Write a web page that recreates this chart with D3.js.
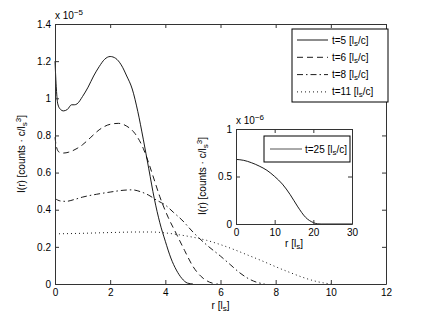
<!DOCTYPE html>
<html>
<head>
<meta charset="utf-8">
<script src="https://cdn.jsdelivr.net/npm/d3@7"></script>
<style>
  body { margin: 0; background: #fff; }
  svg { font-family: "Liberation Sans", Arial, sans-serif; font-size: 10px; }
  .axis path, .axis line { stroke: #333; }
  .axis text { fill: #000; font-size: 10px; }
</style>
</head>
<body>
<div id="chart"></div>
<script>
// data (intensity in units of 1e-5, inset in 1e-6)
const rT5 = [0, 0.05, 0.1, 0.2, 0.3, 0.45, 0.6, 0.7, 0.8, 1.0, 1.2, 1.4, 1.6, 1.8, 2.0, 2.2, 2.4, 2.6, 2.8, 3.0, 3.2, 3.4, 3.6, 3.8, 4.0, 4.2, 4.4, 4.6, 4.8, 5.0];
const iT5 = [1.2, 1.05, 0.97, 0.94, 0.932, 0.94, 0.965, 0.965, 0.97, 1.01, 1.06, 1.12, 1.17, 1.21, 1.225, 1.215, 1.18, 1.12, 1.05, 0.93, 0.78, 0.62, 0.46, 0.33, 0.23, 0.14, 0.075, 0.03, 0.005, 0];

const rT6 = [0, 0.05, 0.15, 0.3, 0.5, 0.8, 1.0, 1.3, 1.6, 2.0, 2.3, 2.6, 2.9, 3.2, 3.4, 3.6, 3.8, 4.1, 4.4, 4.7, 5.0, 5.3, 5.6, 5.9];
const iT6 = [0.79, 0.74, 0.71, 0.705, 0.71, 0.73, 0.75, 0.79, 0.83, 0.86, 0.865, 0.85, 0.81, 0.73, 0.65, 0.56, 0.47, 0.36, 0.27, 0.18, 0.095, 0.04, 0.01, 0];

const rT8 = [0, 0.2, 0.4, 0.7, 1.0, 1.5, 2.0, 2.5, 2.8, 3.1, 3.4, 3.7, 4.0, 4.3, 4.6, 5.0, 5.5, 6.0, 6.35, 6.7, 7.0, 7.3, 7.6];
const iT8 = [0.46, 0.447, 0.445, 0.455, 0.468, 0.483, 0.495, 0.505, 0.507, 0.497, 0.478, 0.45, 0.425, 0.385, 0.345, 0.28, 0.21, 0.15, 0.105, 0.06, 0.03, 0.01, 0];

const rT11 = [0, 1, 2, 3, 3.5, 4, 4.5, 5, 5.5, 6, 6.5, 7, 7.5, 8, 8.5, 9, 9.5, 10];
const iT11 = [0.27, 0.273, 0.277, 0.28, 0.28, 0.275, 0.265, 0.252, 0.235, 0.212, 0.185, 0.155, 0.125, 0.093, 0.063, 0.035, 0.013, 0];

const rT25 = [0, 2, 4, 6, 8, 10, 12, 14, 16, 18, 20, 21, 22, 30];
const iT25 = [0.68, 0.67, 0.645, 0.61, 0.565, 0.5, 0.42, 0.31, 0.18, 0.07, 0.015, 0.002, 0, 0];

const legendTimes = ["5", "6", "8", "11"];
const dashes = [null, "6,4", "6,3,1.5,3", "1,3"];
const xTicks = [0, 2, 4, 6, 8, 10, 12];
const yTicks = [0, 0.2, 0.4, 0.6, 0.8, 1, 1.2, 1.4];
const insetXTicks = [0, 10, 20, 30];
const insetYTicks = [0, 0.5, 1];

const width = 426, height = 321;
const margin = { top: 24, bottom: 37, left: 55, right: 40 };

const svg = d3.select("#chart").append("svg")
  .attr("width", width).attr("height", height);
svg.append("rect").attr("width", width).attr("height", height).attr("fill", "#fff");

const series = [
  { r: rT5, v: iT5 }, { r: rT6, v: iT6 }, { r: rT8, v: iT8 }, { r: rT11, v: iT11 }
];

// draw one matlab-style axes box (ticks inside on all four sides)
function drawAxes(g, x, y, xt, yt) {
  const [x0, x1] = x.range(), [y0, y1] = y.range();
  g.append("g").attr("class", "axis").attr("transform", `translate(0,${y0})`)
    .call(d3.axisBottom(x).tickValues(xt).tickSizeInner(-4).tickSizeOuter(0).tickPadding(5).tickFormat(d3.format("")));
  g.append("g").attr("class", "axis").attr("transform", `translate(0,${y1})`)
    .call(d3.axisTop(x).tickValues(xt).tickSizeInner(-4).tickSizeOuter(0).tickFormat(""));
  g.append("g").attr("class", "axis").attr("transform", `translate(${x0},0)`)
    .call(d3.axisLeft(y).tickValues(yt).tickSizeInner(-4).tickSizeOuter(0).tickPadding(4).tickFormat(d3.format("")));
  g.append("g").attr("class", "axis").attr("transform", `translate(${x1},0)`)
    .call(d3.axisRight(y).tickValues(yt).tickSizeInner(-4).tickSizeOuter(0).tickFormat(""));
}

function subLabel(textSel, parts) {
  parts.forEach(p => {
    const t = textSel.append("tspan").text(p.t);
    if (p.sub) t.attr("baseline-shift", "-30%").attr("font-size", "8px");
    if (p.sup) t.attr("baseline-shift", "45%").attr("font-size", "8px");
  });
}

/** MAIN AXES */
let xScale = d3.scaleLinear().domain([0, 12]).range([margin.left, width - margin.right]);
let yScale = d3.scaleLinear().domain([0, 1.4]).range([height - margin.bottom, margin.top]);

const main = svg.append("g");
const line = d3.line().x((d, i) => d[0]).y(d => d[1]).curve(d3.curveMonotoneX);

series.forEach((s, k) => {
  main.append("path")
    .attr("d", line(s.r.map((r, i) => [xScale(r), yScale(s.v[i])])))
    .attr("fill", "none").attr("stroke", "#000").attr("stroke-width", 0.9)
    .attr("stroke-dasharray", dashes[k]);
});
drawAxes(main, xScale, yScale, xTicks, yTicks);

// exponent
let ex = main.append("text").attr("x", margin.left).attr("y", 19);
subLabel(ex, [{ t: "x 10" }, { t: "−5", sup: true }]);

// axis labels
let xl = main.append("text").attr("x", (xScale(0) + xScale(12)) / 2).attr("y", 309).attr("text-anchor", "middle");
subLabel(xl, [{ t: "r [l" }, { t: "s", sub: true }, { t: "]" }]);
let yl = main.append("text").attr("transform", `translate(25,${(yScale(0) + yScale(1.4)) / 2}) rotate(-90)`).attr("text-anchor", "middle");
subLabel(yl, [{ t: "I(r) [counts · c/l" }, { t: "s", sub: true }, { t: "3", sup: true }, { t: "]" }]);

// legend
const leg = main.append("g").attr("transform", "translate(292,29)");
leg.append("rect").attr("width", 96).attr("height", 73).attr("fill", "#fff").attr("stroke", "#000").attr("stroke-width", 1);
legendTimes.forEach((t, k) => {
  const yy = 11 + k * 17.3;
  leg.append("line").attr("x1", 5).attr("x2", 36).attr("y1", yy).attr("y2", yy)
    .attr("stroke", "#000").attr("stroke-width", 0.9).attr("stroke-dasharray", dashes[k]);
  const tx = leg.append("text").attr("x", 40).attr("y", yy + 3.5);
  subLabel(tx, [{ t: "t=" + t + " [l" }, { t: "s", sub: true }, { t: "/c]" }]);
});

/** INSET */
let xIn = d3.scaleLinear().domain([0, 30]).range([236, 352]);
let yIn = d3.scaleLinear().domain([0, 1]).range([224, 129]);
const inset = svg.append("g");
inset.append("rect").attr("x", 236).attr("y", 129).attr("width", 116).attr("height", 95).attr("fill", "#fff");
inset.append("path")
  .attr("d", line(rT25.map((r, i) => [xIn(r), yIn(iT25[i])])))
  .attr("fill", "none").attr("stroke", "#000").attr("stroke-width", 0.9);
drawAxes(inset, xIn, yIn, insetXTicks, insetYTicks);

let ex2 = inset.append("text").attr("x", 236).attr("y", 124);
subLabel(ex2, [{ t: "x 10" }, { t: "−6", sup: true }]);
let xl2 = inset.append("text").attr("x", 294).attr("y", 247).attr("text-anchor", "middle");
subLabel(xl2, [{ t: "r [l" }, { t: "s", sub: true }, { t: "]" }]);
let yl2 = inset.append("text").attr("transform", `translate(206,176) rotate(-90)`).attr("text-anchor", "middle");
subLabel(yl2, [{ t: "I(r) [counts · c/l" }, { t: "s", sub: true }, { t: "3", sup: true }, { t: "]" }]);

const leg2 = inset.append("g").attr("transform", "translate(264,136)");
leg2.append("rect").attr("width", 86).attr("height", 26).attr("fill", "#fff").attr("stroke", "#000");
leg2.append("line").attr("x1", 6).attr("x2", 38).attr("y1", 13).attr("y2", 13).attr("stroke", "#555").attr("stroke-width", 1);
let t25 = leg2.append("text").attr("x", 41).attr("y", 16.5);
subLabel(t25, [{ t: "t=25 [l" }, { t: "s", sub: true }, { t: "/c]" }]);
</script>
</body>
</html>
